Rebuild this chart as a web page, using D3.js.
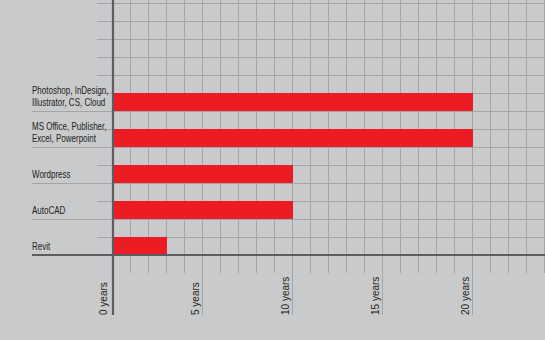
<!DOCTYPE html>
<html>
<head>
<meta charset="utf-8">
<script src="https://cdn.jsdelivr.net/npm/d3@7"></script>
<style>
  html, body { margin: 0; padding: 0; background: #c9cacc; }
  svg { display: block; }
  .cat { font-family: "Liberation Sans", Arial, sans-serif; font-size: 10px; fill: #231f20; }
  .tick text { font-family: "Liberation Sans", Arial, sans-serif; font-size: 10px; fill: #231f20; }
</style>
</head>
<body>
<svg id="chart" width="545" height="340"></svg>
<script>
// Software skills and years of experience
const categories = [
  "Photoshop, InDesign,\nIllustrator, CS, Cloud",
  "MS Office, Publisher,\nExcel, Powerpoint",
  "Wordpress",
  "AutoCAD",
  "Revit"
];
const years = [20, 20, 10, 10, 3];
const labelTicks = [0, 5, 10, 15, 20];
const tickLabel = d => d + " years";

const W = 545, H = 340;
const svg = d3.select("#chart");

const bg = "#c9cacc", gridColor = "#a4a5a7", axisColor = "#5c5d5f", barColor = "#ed1c24";

svg.append("rect").attr("width", W).attr("height", H).attr("fill", bg);

// One grid cell = one year horizontally, 18px
const x = d3.scaleLinear().domain([0, 24]).range([113, 545]);
// Each skill takes two grid rows; the bar fills the lower one
const y = d3.scaleBand().domain(categories).range([75, 255]);
// Horizontal grid rows, counted up from the baseline
const row = d3.scaleLinear().domain([0, 14]).range([255, 3]);

const baseY = row(0);
const rowH = y.bandwidth() / 2;
const bandBottoms = new Set(categories.map(c => Math.round(y(c) + y.bandwidth())));

// Horizontal grid lines
const rows = d3.range(1, 15);
svg.append("g").selectAll("line").data(rows).join("line")
  .attr("x1", k => bandBottoms.has(Math.round(row(k))) ? 32 : 97)
  .attr("x2", W)
  .attr("y1", k => row(k) + 0.5)
  .attr("y2", k => row(k) + 0.5)
  .attr("stroke", gridColor)
  .attr("stroke-width", 1);

// Vertical grid lines, running below the baseline as tick marks
const cols = d3.range(1, 25);
svg.append("g").selectAll("line").data(cols).join("line")
  .attr("x1", d => x(d) - 0.5)
  .attr("x2", d => x(d) - 0.5)
  .attr("y1", 0)
  .attr("y2", d => d % 5 === 0 ? 315 : 273)
  .attr("stroke", gridColor)
  .attr("stroke-width", 1);

// Bars
svg.append("g").selectAll("rect").data(categories).join("rect")
  .attr("x", x(0))
  .attr("y", c => y(c) + rowH)
  .attr("width", (c, i) => x(years[i]) - x(0))
  .attr("height", rowH)
  .attr("fill", barColor);

// Category labels in a condensed face, last line just above the band bottom
const labels = svg.append("g").selectAll("text").data(categories).join("text")
  .attr("class", "cat")
  .attr("transform", c => `translate(32,${y(c) + y.bandwidth() - 5.5}) scale(0.8,1)`);
labels.each(function(c) {
  const lines = c.split("\n");
  d3.select(this).selectAll("tspan").data(lines).join("tspan")
    .attr("x", 0)
    .attr("y", (l, j) => -(lines.length - 1 - j) * 12)
    .text(l => l);
});

// Year labels along the bottom axis, rotated
const axis = svg.append("g")
  .attr("transform", `translate(0,${baseY})`)
  .call(d3.axisBottom(x).tickValues(labelTicks).tickSize(0).tickFormat(tickLabel));
axis.select(".domain").remove();
axis.selectAll(".tick line").remove();
axis.selectAll(".tick text")
  .attr("transform", "rotate(-90)")
  .attr("text-anchor", "start")
  .attr("x", -60)
  .attr("y", d => d === 0 ? -7 : -5)
  .attr("dy", 0);

// Main axes
svg.append("line")
  .attr("x1", 32).attr("x2", W)
  .attr("y1", baseY).attr("y2", baseY)
  .attr("stroke", axisColor).attr("stroke-width", 2.2);
svg.append("line")
  .attr("x1", x(0)).attr("x2", x(0))
  .attr("y1", 0).attr("y2", 315)
  .attr("stroke", axisColor).attr("stroke-width", 2.2);
</script>
</body>
</html>
